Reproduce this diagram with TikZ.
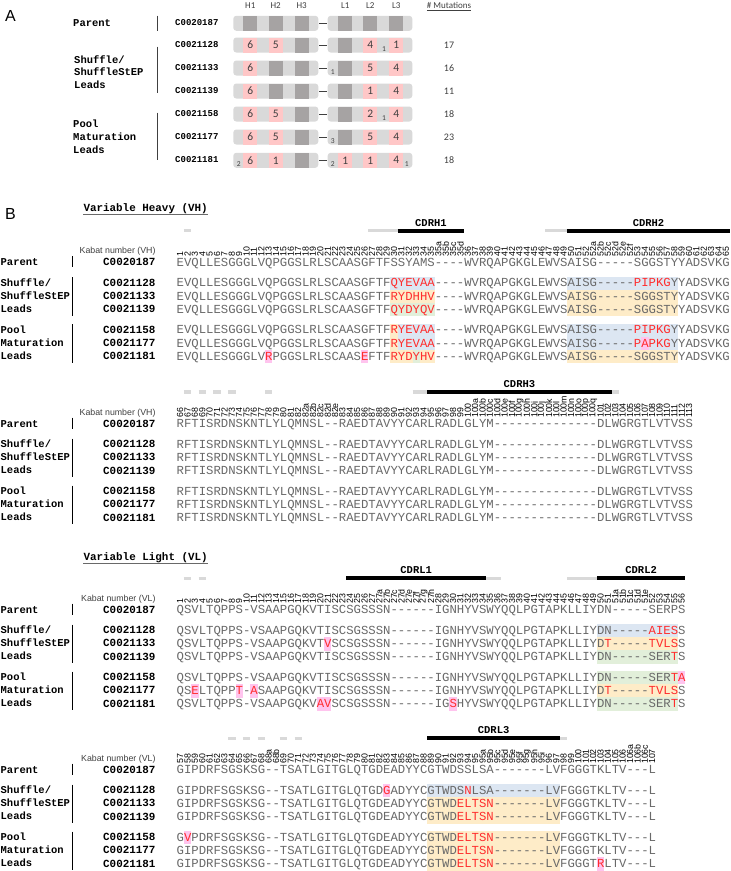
\documentclass[tikz,border=0pt]{standalone}
\usepackage{fontspec}
\setsansfont{Liberation Sans}
\setmonofont{Liberation Mono}
\newfontfamily\calfont{Carlito}

\definecolor{bargray}{RGB}{217,217,217}
\definecolor{cdrgray}{RGB}{166,163,163}
\definecolor{cdrpink}{RGB}{255,199,199}
\definecolor{hlblue}{RGB}{220,230,242}
\definecolor{hlyellow}{RGB}{254,236,200}
\definecolor{hlgreen}{RGB}{226,239,218}
\definecolor{hlpink}{RGB}{255,196,238}
\definecolor{mutred}{RGB}{255,45,45}
\definecolor{seqgray}{RGB}{105,105,105}
\definecolor{txtgray}{RGB}{64,64,64}

\tikzset{
  seq/.style={font=\ttfamily\fontsize{12.29}{14}\selectfont, text=seqgray, inner sep=0pt, anchor=base west},
  cname/.style={font=\ttfamily\bfseries\fontsize{10.9}{12}\selectfont, inner sep=0pt, anchor=base east},
  grp/.style={font=\ttfamily\bfseries\fontsize{10.5}{12}\selectfont, inner sep=0pt, anchor=base west},
  title/.style={font=\ttfamily\bfseries\fontsize{10.9}{12}\selectfont, inner sep=0pt, anchor=base west},
  kabat/.style={font=\sffamily\fontsize{8.8}{9}\selectfont, rotate=90, anchor=west, inner sep=0pt},
  kabtxt/.style={font=\sffamily\fontsize{8.8}{10}\selectfont, text=txtgray, inner sep=0pt, anchor=base east},
  cdrlab/.style={font=\ttfamily\bfseries\fontsize{10.5}{12}\selectfont, inner sep=0pt},
  cdrblack/.style={line width=4pt},
  cdrlight/.style={line width=3.5pt, draw=bargray},
  grpbar/.style={line width=1.2pt},
  % panel A
  panel/.style={font=\sffamily\fontsize{16}{18}\selectfont, inner sep=0pt, anchor=base},
  ahead/.style={font=\calfont\fontsize{9}{10}\selectfont, text=txtgray, inner sep=0pt, anchor=base},
  aname/.style={font=\ttfamily\bfseries\fontsize{9}{10}\selectfont, inner sep=0pt, anchor=base west},
  agrp/.style={font=\ttfamily\bfseries\fontsize{10.5}{12}\selectfont, inner sep=0pt, anchor=base west},
  acount/.style={font=\calfont\fontsize{10}{12}\selectfont, text=txtgray, inner sep=0pt, anchor=base},
  asmall/.style={font=\calfont\fontsize{7.5}{8}\selectfont, text=txtgray, inner sep=0pt, anchor=base},
  cdrg/.style={fill=cdrgray, minimum width=14pt, minimum height=15pt, inner sep=0pt},
  cdrp/.style={cdrg, fill=cdrpink, font=\calfont\fontsize{11.5}{12}\selectfont, text=txtgray},
  linker/.style={draw=txtgray, line width=1pt},
  agbar/.style={draw=txtgray, line width=0.9pt}
}

\newcommand{\seqx}{176.5}
\newcommand{\seqp}{7.375}
\newcommand{\mut}[1]{\textcolor{mutred}{#1}}
\newcommand{\hlbox}[4]{\fill[#1] ({\seqx+#3*\seqp},{#2-6.7}) rectangle ({\seqx+(#4+1)*\seqp},{#2+6.7});}
\newcommand{\seqrow}[3]{\node[seq] (#1) at (\seqx,{#2+3.5}) {#3};}
\newcommand{\kab}[4]{\foreach \lab [count=\col from #2] in {#3}
  \node[kabat] at ({\seqx+(\col+0.5)*\seqp},#1) {#4\lab};}
\newcommand{\cdrspan}[4]{\draw[#1] ({\seqx+#3*\seqp},#2) -- ({\seqx+(#4+1)*\seqp},#2);}
\newcommand{\cdrname}[4]{\node[cdrlab] at ({\seqx+(#3+#4+1)/2*\seqp},{#2-8}) {#1};}

% names, group labels and bars of one alignment block
\newcommand{\blocklabels}[3]{%
  \node[kabtxt] (kab-#3) at (155.7,{#1-12+3.1}) {Kabat number (#2)};
  \foreach \nm/\dy in {C0020187/0,C0021128/20.7,C0021133/33.8,C0021139/46.9,C0021158/67.7,C0021177/80.8,C0021181/93.9}
    \node[cname] (#3-\nm) at (155.7,{#1+\dy+3.1}) {\nm};
  \foreach \gl/\dy in {Parent/0,{Shuffle/}/20.7,ShuffleStEP/33.8,Leads/46.9,Pool/67.7,Maturation/80.8,Leads/93.9}
    \node[grp] at (0.5,{#1+\dy+3}) {\gl};
  \draw[grpbar] (72.3,{#1-6.5}) -- (72.3,{#1+4.5});
  \draw[grpbar] (72.3,{#1+14.7}) -- (72.3,{#1+52.9});
  \draw[grpbar] (72.3,{#1+61.7}) -- (72.3,{#1+99.9});
}

% panel A
\newcommand{\achain}[4]{%
  \fill[bargray, rounded corners=3pt] (233.3,{#1-7.5}) rectangle (318.3,{#1+7.5});
  \fill[bargray, rounded corners=3pt] (327.7,{#1-7.5}) rectangle (412.3,{#1+7.5});
  \draw[linker] (319.3,#1) -- (326.7,#1);
  \node[aname] (a-#4) at (175,{#1+2.6}) {#2};
  \node[acount] (m-#4) at (449,{#1+3.2}) {#3};
}
\newcommand{\abox}[3]{\if\relax\detokenize{#3}\relax
  \node[cdrg] at (#1,#2) {};\else\node[cdrp] at (#1,#2) {#3};\fi}
\newcommand{\aboxes}[7]{\abox{250.3}{#1}{#2}\abox{275.7}{#1}{#3}\abox{301.7}{#1}{#4}%
  \abox{345.3}{#1}{#5}\abox{370.3}{#1}{#6}\abox{396.2}{#1}{#7}}

\begin{document}
\begin{tikzpicture}[x=1pt,y=-1pt]
\fill[white] (0,0) rectangle (731,871);
\useasboundingbox (0,0) rectangle (731,871);

%% ---------------- panel A
\node[panel] (A) at (10.5,21.7) {A};
\foreach \h/\x in {H1/250.3,H2/275.7,H3/301.7,L1/345.3,L2/370.3,L3/396.2}
  \node[ahead] (head-\h) at (\x,8.4) {\h};
\node[ahead] (head-mut) at (449,8.4) {\underline{\# Mutations}};

\node[agrp] at (73,26.3) {Parent};
\node[agrp] at (74,63) {Shuffle/};
\node[agrp] at (74,75.7) {ShuffleStEP};
\node[agrp] at (74,88.7) {Leads};
\node[agrp] at (73,127.3) {Pool};
\node[agrp] at (73,140.3) {Maturation};
\node[agrp] at (73,153) {Leads};
\draw[agbar] (157,15.7) -- (157,30.7);
\draw[agbar] (157,46.7) -- (157,93.3);
\draw[agbar] (157,112.7) -- (157,160);

\achain{23.3}{C0020187}{}{187}
\aboxes{23.3}{}{}{}{}{}{}
\achain{45}{C0021128}{17}{128}
\aboxes{45}{6}{5}{}{}{4}{1}
\node[asmall] at (384,51) {1};
\achain{68}{C0021133}{16}{133}
\aboxes{68}{6}{}{}{}{5}{4}
\node[asmall] at (332.7,74) {1};
\achain{91}{C0021139}{11}{139}
\aboxes{91}{6}{}{}{}{1}{4}
\achain{114}{C0021158}{18}{158}
\aboxes{114}{6}{5}{}{}{2}{4}
\node[asmall] at (384,120) {1};
\achain{137}{C0021177}{23}{177}
\aboxes{137}{6}{5}{}{}{5}{4}
\node[asmall] at (332.7,143) {3};
\achain{160.3}{C0021181}{18}{181}
\aboxes{160.3}{6}{1}{}{1}{1}{4}
\node[asmall] at (238.7,166.3) {2};
\node[asmall] at (332.7,166.3) {2};
\node[asmall] at (406.7,166.3) {1};

%% ---------------- panel B
\node[panel] (B) at (10.5,219.2) {B};

% variable heavy, part 1
\node[title] (vh-title) at (83.3,211.4) {Variable Heavy (VH)};
\draw[seqgray, line width=1.3pt] (83.3,214.8) -- (208.3,214.8);
\cdrspan{cdrlight}{230.7}{1}{1}
\cdrspan{cdrlight}{230.7}{26}{29}
\cdrspan{cdrblack}{230.7}{30}{38}
\cdrspan{cdrlight}{230.7}{50}{52}
\cdrspan{cdrblack}{230.7}{53}{74}
\cdrname{CDRH1}{230.7}{30}{38}
\cdrname{CDRH2}{230.7}{53}{74}
\kab{256.7}{0}{1,...,35}{}
\kab{256.7}{35}{a,b,c,d}{35}
\kab{256.7}{39}{36,...,52}{}
\kab{256.7}{56}{a,...,f}{52}
\kab{256.7}{62}{53,...,65}{}
\blocklabels{262.7}{VH}{vh1}
\hlbox{hlblue}{283.4}{29}{34}
\hlbox{hlblue}{283.4}{53}{67}
\hlbox{hlyellow}{296.5}{29}{34}
\hlbox{hlyellow}{296.5}{53}{67}
\hlbox{hlgreen}{309.6}{29}{34}
\hlbox{hlyellow}{309.6}{53}{67}
\hlbox{hlyellow}{330.4}{29}{29}
\hlbox{hlblue}{330.4}{30}{34}
\hlbox{hlblue}{330.4}{53}{67}
\hlbox{hlyellow}{343.5}{29}{29}
\hlbox{hlblue}{343.5}{30}{34}
\hlbox{hlblue}{343.5}{53}{67}
\hlbox{hlpink}{343.5}{63}{63}
\hlbox{hlyellow}{356.6}{29}{34}
\hlbox{hlgreen}{356.6}{32}{32}
\hlbox{hlyellow}{356.6}{53}{67}
\hlbox{hlpink}{356.6}{12}{12}
\hlbox{hlpink}{356.6}{25}{25}
\seqrow{vh1-187}{262.7}{EVQLLESGGGLVQPGGSLRLSCAASGFTFSSYAMS----WVRQAPGKGLEWVSAISG-----SGGSTYYADSVKG}
\seqrow{vh1-128}{283.4}{EVQLLESGGGLVQPGGSLRLSCAASGFTF\mut{QYEVAA}----WVRQAPGKGLEWVSAISG-----\mut{PIPKG}YYADSVKG}
\seqrow{vh1-133}{296.5}{EVQLLESGGGLVQPGGSLRLSCAASGFTF\mut{RYDHHV}----WVRQAPGKGLEWVSAISG-----SGGSTYYADSVKG}
\seqrow{vh1-139}{309.6}{EVQLLESGGGLVQPGGSLRLSCAASGFTF\mut{QYDYQV}----WVRQAPGKGLEWVSAISG-----SGGSTYYADSVKG}
\seqrow{vh1-158}{330.4}{EVQLLESGGGLVQPGGSLRLSCAASGFTF\mut{RYEVAA}----WVRQAPGKGLEWVSAISG-----\mut{PIPKG}YYADSVKG}
\seqrow{vh1-177}{343.5}{EVQLLESGGGLVQPGGSLRLSCAASGFTF\mut{RYEVAA}----WVRQAPGKGLEWVSAISG-----\mut{PAPKG}YYADSVKG}
\seqrow{vh1-181}{356.6}{EVQLLESGGGLV\mut{R}PGGSLRLSCAAS\mut{E}FTF\mut{RYDYHV}----WVRQAPGKGLEWVSAISG-----SGGSTYYADSVKG}

% variable heavy, part 2
\foreach \c in {1,3,5,7,12} {\cdrspan{cdrlight}{392}{\c}{\c}}
\cdrspan{cdrlight}{392}{32}{33}
\cdrspan{cdrblack}{392}{34}{58}
\cdrspan{cdrlight}{392}{59}{59}
\cdrname{CDRH3}{392}{34}{58}
\kab{418}{0}{66,...,82}{}
\kab{418}{17}{a,...,e}{82}
\kab{418}{22}{83,...,100}{}
\kab{418}{40}{a,...,q}{100}
\kab{418}{57}{101,...,113}{}
\blocklabels{424}{VH}{vh2}
\foreach \y [count=\r] in {424,444.7,457.8,470.9,491.7,504.8,517.9}
  {\seqrow{vh2-\r}{\y}{RFTISRDNSKNTLYLQMNSL--RAEDTAVYYCARLRADLGLYM--------------DLWGRGTLVTVSS}}

% variable light, part 1
\node[title] (vl-title) at (83.3,560.4) {Variable Light (VL)};
\draw[seqgray, line width=1.3pt] (83.3,563.8) -- (208.3,563.8);
\cdrspan{cdrlight}{578.3}{1}{1}
\cdrspan{cdrlight}{578.3}{3}{3}
\cdrspan{cdrblack}{578.3}{23}{41}
\cdrspan{cdrlight}{578.3}{42}{43}
\cdrspan{cdrlight}{578.3}{53}{56}
\cdrspan{cdrblack}{578.3}{57}{68}
\cdrname{CDRL1}{578.3}{23}{41}
\cdrname{CDRL2}{578.3}{57}{68}
\kab{604}{0}{1,...,27}{}
\kab{604}{27}{a,...,h}{27}
\kab{604}{35}{28,...,51}{}
\kab{604}{59}{a,...,e}{51}
\kab{604}{64}{52,...,56}{}
\blocklabels{610}{VL}{vl1}
\hlbox{hlblue}{630.7}{57}{67}
\hlbox{hlyellow}{643.8}{57}{67}
\hlbox{hlpink}{643.8}{20}{20}
\hlbox{hlgreen}{656.9}{57}{67}
\hlbox{hlgreen}{677.7}{57}{67}
\hlbox{hlpink}{677.7}{68}{68}
\hlbox{hlyellow}{690.8}{57}{67}
\hlbox{hlpink}{690.8}{2}{2}
\hlbox{hlpink}{690.8}{8}{8}
\hlbox{hlpink}{690.8}{10}{10}
\hlbox{hlgreen}{703.9}{57}{67}
\hlbox{hlpink}{703.9}{19}{20}
\hlbox{hlpink}{703.9}{37}{37}
\seqrow{vl1-187}{610}{QSVLTQPPS-VSAAPGQKVTISCSGSSSN------IGNHYVSWYQQLPGTAPKLLIYDN-----SERPS}
\seqrow{vl1-128}{630.7}{QSVLTQPPS-VSAAPGQKVTISCSGSSSN------IGNHYVSWYQQLPGTAPKLLIYDN-----\mut{AIES}S}
\seqrow{vl1-133}{643.8}{QSVLTQPPS-VSAAPGQKVT\mut{V}SCSGSSSN------IGNHYVSWYQQLPGTAPKLLIYD\mut{T}-----\mut{TVLS}S}
\seqrow{vl1-139}{656.9}{QSVLTQPPS-VSAAPGQKVTISCSGSSSN------IGNHYVSWYQQLPGTAPKLLIYDN-----SER\mut{T}S}
\seqrow{vl1-158}{677.7}{QSVLTQPPS-VSAAPGQKVTISCSGSSSN------IGNHYVSWYQQLPGTAPKLLIYDN-----SER\mut{TA}}
\seqrow{vl1-177}{690.8}{QS\mut{E}LTQPP\mut{T}-\mut{A}SAAPGQKVTISCSGSSSN------IGNHYVSWYQQLPGTAPKLLIYD\mut{T}-----\mut{TVLS}S}
\seqrow{vl1-181}{703.9}{QSVLTQPPS-VSAAPGQKV\mut{AV}SCSGSSSN------IG\mut{S}HYVSWYQQLPGTAPKLLIYDN-----SER\mut{T}S}

% variable light, part 2
\foreach \c in {7,9,11,14,16} {\cdrspan{cdrlight}{738.3}{\c}{\c}}
\cdrspan{cdrblack}{738.3}{34}{51}
\cdrspan{cdrlight}{738.3}{52}{52}
\cdrname{CDRL3}{738.3}{34}{51}
\kab{764}{0}{57,...,68}{}
\kab{764}{12}{a,b}{68}
\kab{764}{14}{69,...,95}{}
\kab{764}{41}{a,...,i}{95}
\kab{764}{50}{96,...,106}{}
\kab{764}{61}{a,b,c}{106}
\kab{764}{64}{107}{}
\blocklabels{770}{VL}{vl2}
\hlbox{hlpink}{790.7}{28}{28}
\hlbox{hlblue}{790.7}{34}{51}
\hlbox{hlyellow}{803.8}{34}{51}
\hlbox{hlyellow}{816.9}{34}{51}
\hlbox{hlpink}{837.7}{1}{1}
\hlbox{hlyellow}{837.7}{34}{51}
\hlbox{hlyellow}{850.8}{34}{51}
\hlbox{hlyellow}{863.9}{34}{51}
\hlbox{hlpink}{863.9}{57}{57}
\seqrow{vl2-187}{770}{GIPDRFSGSKSG--TSATLGITGLQTGDEADYYCGTWDSSLSA-------LVFGGGTKLTV---L}
\seqrow{vl2-128}{790.7}{GIPDRFSGSKSG--TSATLGITGLQTGD\mut{G}ADYYCGTWDS\mut{N}LSA-------LVFGGGTKLTV---L}
\seqrow{vl2-133}{803.8}{GIPDRFSGSKSG--TSATLGITGLQTGDEADYYCGTWD\mut{ELTSN}-------LVFGGGTKLTV---L}
\seqrow{vl2-139}{816.9}{GIPDRFSGSKSG--TSATLGITGLQTGDEADYYCGTWD\mut{ELTSN}-------LVFGGGTKLTV---L}
\seqrow{vl2-158}{837.7}{G\mut{V}PDRFSGSKSG--TSATLGITGLQTGDEADYYCGTWD\mut{ELTSN}-------LVFGGGTKLTV---L}
\seqrow{vl2-177}{850.8}{GIPDRFSGSKSG--TSATLGITGLQTGDEADYYCGTWD\mut{ELTSN}-------LVFGGGTKLTV---L}
\seqrow{vl2-181}{863.9}{GIPDRFSGSKSG--TSATLGITGLQTGDEADYYCGTWD\mut{ELTSN}-------LVFGGGT\mut{R}LTV---L}
\end{tikzpicture}
\end{document}
